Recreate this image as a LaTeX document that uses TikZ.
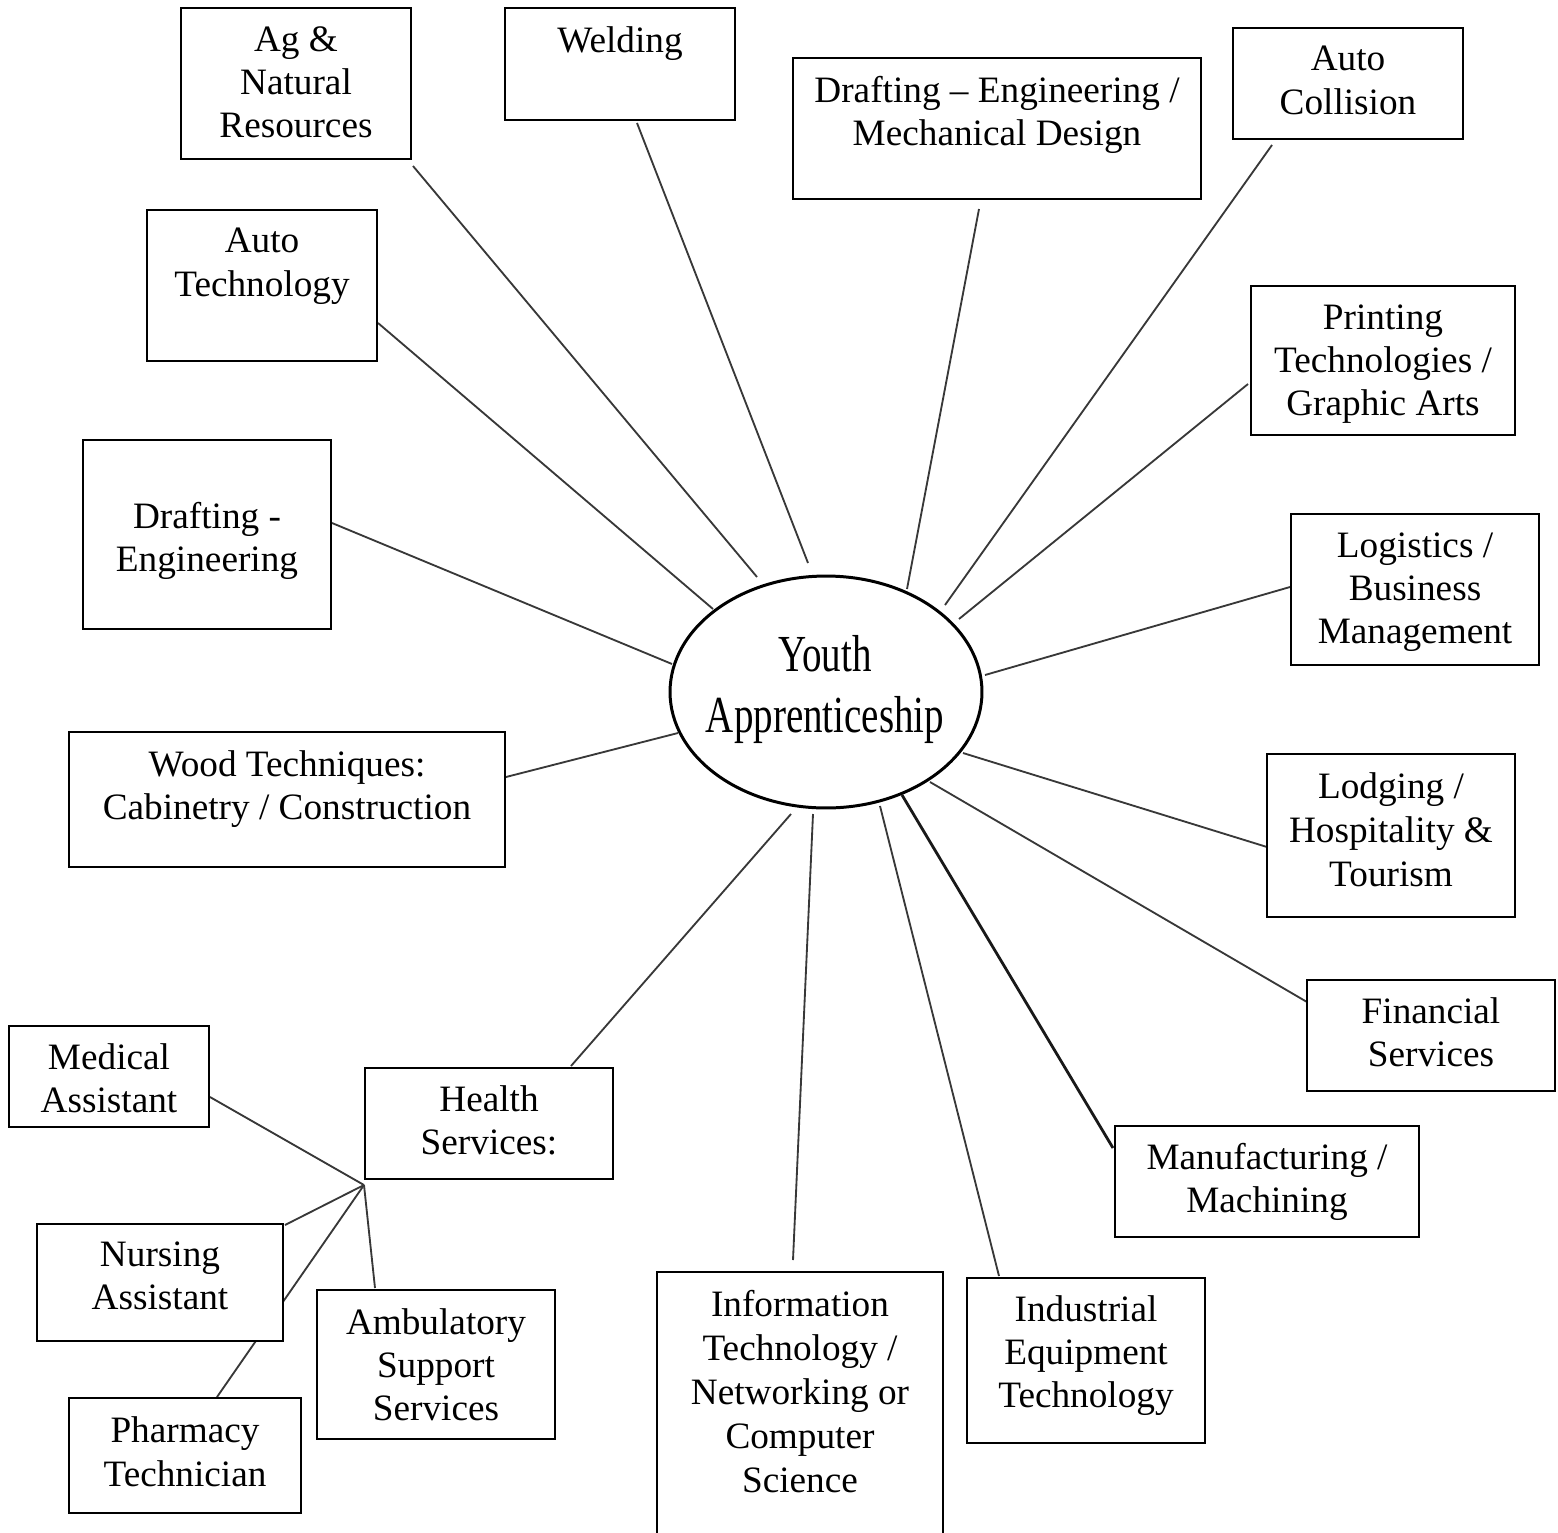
\documentclass[tikz,border=0pt]{standalone}
\usepackage{fontspec}
\setmainfont{Liberation Serif}
\usetikzlibrary{shapes.geometric,fit}
\pgfdeclarelayer{bg}
\pgfsetlayers{bg,main}
\begin{document}
\begin{tikzpicture}[x=0.02cm,y=-0.02cm,
  box/.style={draw=black,line width=1.1pt,fill=white,inner sep=0pt},
  lbl/.style={anchor=north,inner sep=0pt,align=center,font=\fontsize{21.2}{24.5}\selectfont},
  conn/.style={draw=black!78,line width=1.05pt},
  thickconn/.style={draw=black!90,line width=1.6pt}]
\useasboundingbox (0,0) rectangle (1558,1532);

% central ellipse
\node[draw=black,ellipse,line width=1.7pt,minimum width=6.24cm,minimum height=4.64cm,inner sep=0pt,fill=white] (yt) at (826,692) {};
\node[inner sep=0pt,font=\fontsize{29.6}{34.5}\selectfont] (yt-t) at (825,690)
  {\scalebox{0.75}[1]{\begin{tabular}{@{}c@{}}Youth\\Apprenticeship\end{tabular}}};

% boxes
\node[box,fit={(181,8)(411,159)}] (ag) {};
\node[lbl] (ag-t) at ([yshift=-0.38cm]ag.north) {Ag \&\\Natural\\Resources};
\node[box,fit={(505,8)(735,120)}] (weld) {};
\node[lbl] (weld-t) at ([yshift=-0.38cm]weld.north) {Welding};
\node[box,fit={(793,58)(1201,199)}] (dmech) {};
\node[lbl] (dmech-t) at ([yshift=-0.38cm]dmech.north) {Drafting -- Engineering /\\Mechanical Design};
\node[box,fit={(1233,28)(1463,139)}] (acoll) {};
\node[lbl] (acoll-t) at ([yshift=-0.38cm]acoll.north) {Auto\\Collision};
\node[box,fit={(147,210)(377,361)}] (atech) {};
\node[lbl] (atech-t) at ([yshift=-0.38cm]atech.north) {Auto\\Technology};
\node[box,fit={(1251,286)(1515,435)}] (print) {};
\node[lbl] (print-t) at ([yshift=-0.38cm]print.north) {Printing\\Technologies /\\Graphic Arts};
\node[box,fit={(83,440)(331,629)}] (deng) {};
\node[lbl] (deng-t) at ([yshift=-1.26cm]deng.north) {Drafting -\\Engineering};
\node[box,fit={(1291,514)(1539,665)}] (logi) {};
\node[lbl] (logi-t) at ([yshift=-0.38cm]logi.north) {Logistics /\\Business\\Management};
\node[box,fit={(69,732)(505,867)}] (wood) {};
\node[lbl] (wood-t) at ([yshift=-0.38cm]wood.north) {Wood Techniques:\\Cabinetry / Construction};
\node[box,fit={(1267,754)(1515,917)}] (lodg) {};
\node[lbl,font=\fontsize{21.2}{25}\selectfont] (lodg-t) at ([yshift=-0.38cm]lodg.north) {Lodging /\\Hospitality \&\\Tourism};
\node[box,fit={(1307,980)(1555,1091)}] (fin) {};
\node[lbl] (fin-t) at ([yshift=-0.36cm]fin.north) {Financial\\Services};
\node[box,fit={(1115,1126)(1419,1237)}] (manu) {};
\node[lbl] (manu-t) at ([yshift=-0.36cm]manu.north) {Manufacturing /\\Machining};
\node[box,fit={(967,1278)(1205,1443)}] (indu) {};
\node[lbl] (indu-t) at ([yshift=-0.36cm]indu.north) {Industrial\\Equipment\\Technology};
\node[box,fit={(657,1272)(943,1560)}] (it) {};
\node[lbl,font=\fontsize{21.2}{25}\selectfont] (it-t) at ([yshift=-0.38cm]it.north) {Information\\Technology /\\Networking or\\Computer\\Science};
\node[box,fit={(365,1068)(613,1179)}] (health) {};
\node[lbl] (health-t) at ([yshift=-0.36cm]health.north) {Health\\Services:};
\node[box,fit={(9,1026)(209,1127)}] (med) {};
\node[lbl] (med-t) at ([yshift=-0.36cm]med.north) {Medical\\Assistant};
\node[box,fit={(37,1224)(283,1341)}] (nurse) {};
\node[lbl] (nurse-t) at ([yshift=-0.36cm]nurse.north) {Nursing\\Assistant};
\node[box,fit={(69,1398)(301,1513)}] (pharm) {};
\node[lbl,font=\fontsize{21.2}{25}\selectfont] (pharm-t) at ([yshift=-0.38cm]pharm.north) {Pharmacy\\Technician};
\node[box,fit={(317,1290)(555,1439)}] (amb) {};
\node[lbl] (amb-t) at ([yshift=-0.38cm]amb.north) {Ambulatory\\Support\\Services};

% connector end points
\coordinate (ag-a) at (413,166);    \coordinate (ag-b) at (757,577);
\coordinate (weld-a) at (637,123);  \coordinate (weld-b) at (808,563);
\coordinate (dmech-a) at (979,209); \coordinate (dmech-b) at (907,589);
\coordinate (acoll-a) at (1272,145);\coordinate (acoll-b) at (945,605);
\coordinate (atech-a) at (378,323); \coordinate (atech-b) at (713,609);
\coordinate (print-a) at (1248,384);\coordinate (print-b) at (959,619);
\coordinate (deng-a) at (332,523);  \coordinate (deng-b) at (672,664);
\coordinate (logi-a) at (1290,587); \coordinate (logi-b) at (985,675);
\coordinate (wood-a) at (506,777);  \coordinate (wood-b) at (678,733);
\coordinate (lodg-a) at (1267,847); \coordinate (lodg-b) at (963,753);
\coordinate (fin-a) at (1307,1002); \coordinate (fin-b) at (930,782);
\coordinate (manu-a) at (1113,1148);\coordinate (manu-b) at (902,795);
\coordinate (indu-a) at (999,1276); \coordinate (indu-b) at (880,806);
\coordinate (it-a) at (793,1260);   \coordinate (it-b) at (813,814);
\coordinate (health-a) at (571,1066);\coordinate (health-b) at (791,814);
\coordinate (hub) at (364,1185);
\coordinate (med-a) at (210,1097);
\coordinate (nurse-a) at (285,1225);
\coordinate (pharm-a) at (217,1397);
\coordinate (amb-a) at (375,1288);

\begin{pgfonlayer}{bg}
\draw[conn] (ag-a) -- (ag-b);
\draw[conn] (weld-a) -- (weld-b);
\draw[conn] (dmech-a) -- (dmech-b);
\draw[conn] (acoll-a) -- (acoll-b);
\draw[conn] (atech-a) -- (atech-b);
\draw[conn] (print-a) -- (print-b);
\draw[conn] (deng-a) -- (deng-b);
\draw[conn] (logi-a) -- (logi-b);
\draw[conn] (wood-a) -- (wood-b);
\draw[conn] (lodg-a) -- (lodg-b);
\draw[conn] (fin-a) -- (fin-b);
\draw[thickconn] (manu-a) -- (manu-b);
\draw[conn] (indu-a) -- (indu-b);
\draw[conn] (it-a) -- (it-b);
\draw[conn] (health-a) -- (health-b);
\draw[conn] (med-a) -- (hub);
\draw[conn] (nurse-a) -- (hub);
\draw[conn] (pharm-a) -- (hub);
\draw[conn] (amb-a) -- (hub);
\end{pgfonlayer}
\end{tikzpicture}
\end{document}
